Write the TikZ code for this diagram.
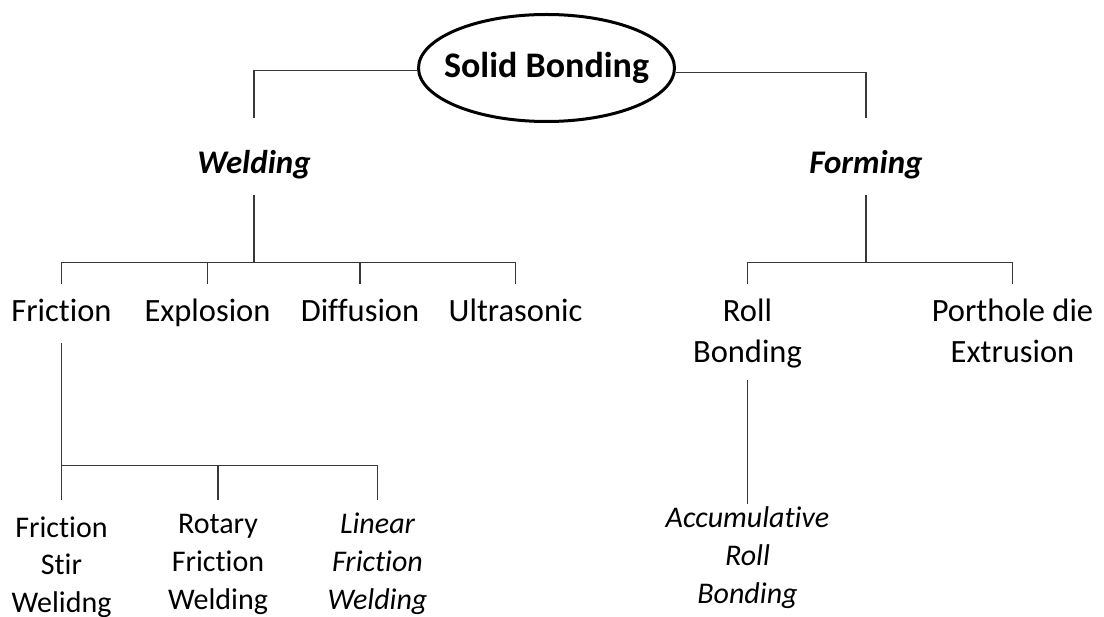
\documentclass[tikz,border=0pt]{standalone}
\usepackage{fontspec}
\setmainfont{Carlito}[Ligatures=NoCommon]
\usetikzlibrary{shapes.geometric}
\newcommand{\lblstack}[3]{\raisebox{0pt}[#1pt][#2pt]{\begin{tabular}[t]{@{}c@{}}#3\end{tabular}}}
\begin{document}
\begin{tikzpicture}[x=1pt,y=-1pt,
  conn/.style={draw=black!78, line width=1.3pt},
  lbl/.style={inner sep=0pt, anchor=base, font=\fontsize{32.5}{41}\selectfont},
  sublbl/.style={inner sep=0pt, anchor=base, font=\fontsize{30}{38}\selectfont},
  subit/.style={inner sep=0pt, anchor=base, font=\itshape\fontsize{30}{38}\selectfont},
  cat/.style={inner sep=0pt, anchor=base, font=\bfseries\itshape\fontsize{33}{40}\selectfont},
  root/.style={ellipse, draw=black, line width=3pt, minimum width=256pt, minimum height=107pt, inner sep=0pt, font=\bfseries\fontsize{36}{43}\selectfont}]
\useasboundingbox (0,0) rectangle (1104,617);
% root
\node[root] (sb) at (546.5,68) {\makebox[0pt]{Solid Bonding}};
% categories
\node[cat] (weld) at (254,174) {\lblstack{56}{21}{Welding}};
\node[cat] (form) at (866,174) {\lblstack{56}{21}{Forming}};
% welding children
\node[lbl] (fric) at (61.5,322) {\lblstack{38}{21}{Friction}};
\node[lbl] (expl) at (207.5,322) {\lblstack{38}{21}{Explosion}};
\node[lbl] (diff) at (360,322) {\lblstack{38}{21}{Diffusion}};
\node[lbl] (ultra) at (515.5,322) {\lblstack{38}{21}{Ultrasonic}};
% forming children
\node[lbl] (roll) at (747.5,322) {\lblstack{38}{58}{Roll\\Bonding}};
\node[lbl] (port) at (1012.5,322) {\lblstack{38}{50}{Porthole die\\Extrusion}};
% friction children
\node[sublbl] (fsw) at (61.5,537) {\lblstack{37}{70}{Friction\\Stir\\Welidng}};
\node[sublbl] (rfw) at (218,534) {\lblstack{34}{70}{Rotary\\Friction\\Welding}};
\node[subit] (lfw) at (377.5,534) {\lblstack{34}{70}{Linear\\Friction\\Welding}};
% roll child
\node[subit] (arb) at (747.5,528) {\lblstack{24}{80}{Accumulative\\Roll\\Bonding}};
% junctions
\path (weld.south) ++(0,67) coordinate (wj);
\path (form.south) ++(0,67) coordinate (fmj);
\path (fric.south) ++(0,122) coordinate (fj);
% connectors
\draw[conn] (sb.181.3) -| (weld.north);
\draw[conn] (sb.358.7) -| (form.north);
\draw[conn] (weld.south) -- (wj);
\draw[conn] (fric.north) |- (wj) -| (ultra.north);
\draw[conn] (expl.north) -- (expl.north |- wj);
\draw[conn] (diff.north) -- (diff.north |- wj);
\draw[conn] (form.south) -- (fmj);
\draw[conn] (roll.north) |- (fmj) -| (port.north);
\draw[conn] (fric.south) -- (fsw.north);
\draw[conn] (fj) -| (lfw.north);
\draw[conn] (rfw.north) -- (rfw.north |- fj);
\draw[conn] (roll.south) -- (arb.north);
\end{tikzpicture}
\end{document}
